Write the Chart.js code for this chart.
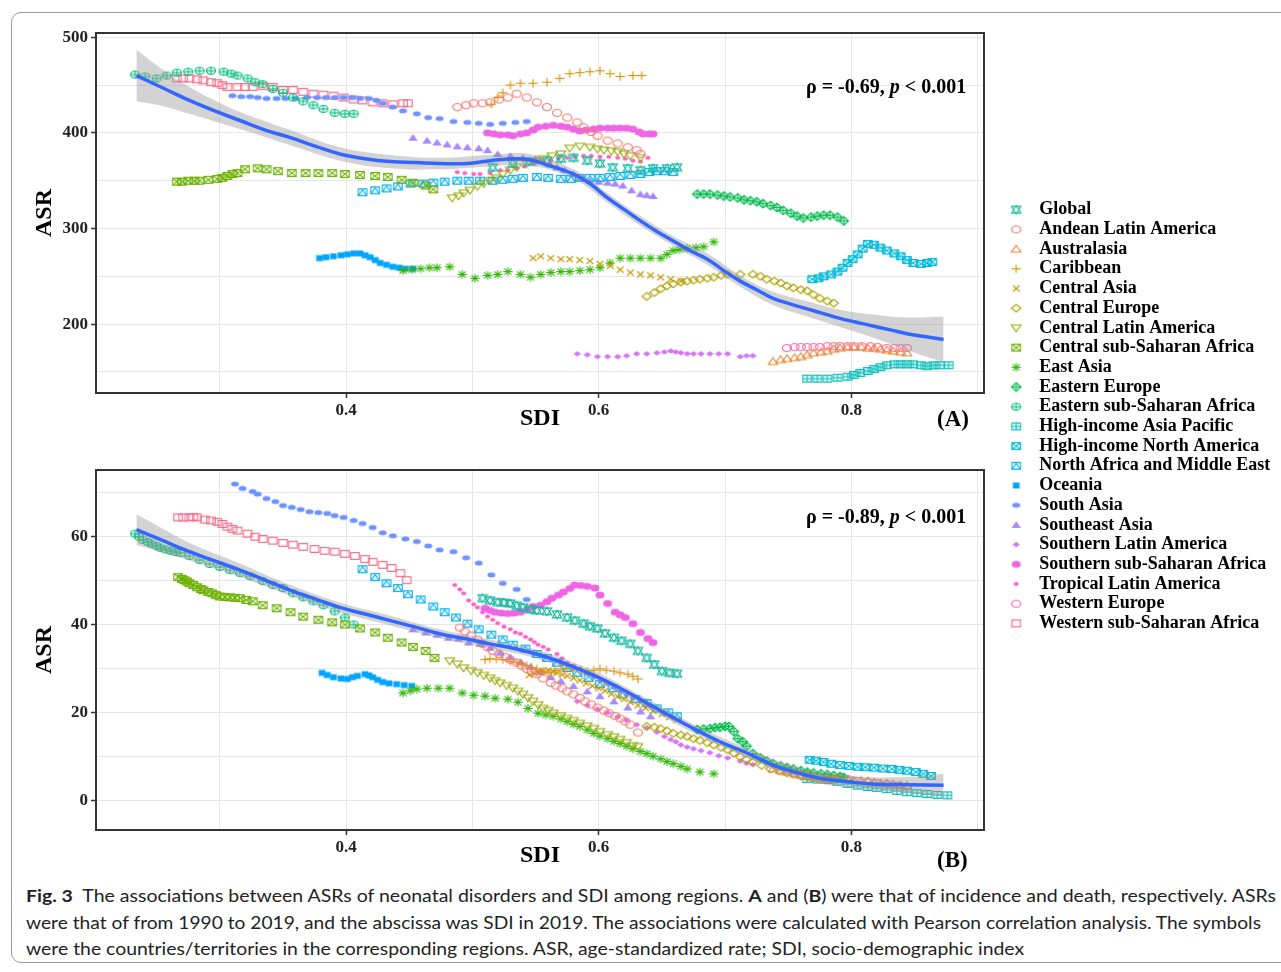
<!DOCTYPE html>
<html>
<head>
<meta charset="utf-8">
<script src="https://cdn.jsdelivr.net/npm/chart.js@4.4.1/dist/chart.umd.min.js"></script>
<style>
  html, body { margin: 0; padding: 0; background: #fff; }
  body { width: 1281px; height: 972px; position: relative; overflow: hidden; }
  .frame { position: absolute; left: 11px; top: 12px; width: 1300px; height: 951px; border: 1px solid #9a9a9a; border-radius: 10px; box-sizing: border-box; }
  canvas { position: absolute; }
  .lab { position: absolute; font-family: 'Liberation Serif', 'Times New Roman', serif; font-weight: bold; color: #000; white-space: nowrap; }
  .cap { position: absolute; left: 26px; font-family: Lato, 'Open Sans', sans-serif; font-size: 17px; color: #222; white-space: nowrap; transform-origin: 0 50%; }
</style>
</head>
<body>
<div class="frame"></div>
<canvas id="panelA" width="1000" height="440" style="left:0;top:0;width:1000px;height:440px"></canvas>
<canvas id="panelB" width="1000" height="440" style="left:0;top:440px;width:1000px;height:440px"></canvas>
<canvas id="legendBox" width="600" height="450" style="left:1000px;top:190px;width:600px;height:450px"></canvas>

<div class="lab" style="left:806px;top:75px;font-size:20px">ρ = -0.69, <i>p</i> &lt; 0.001</div>
<div class="lab" style="left:806px;top:505px;font-size:20px">ρ = -0.89, <i>p</i> &lt; 0.001</div>
<div class="lab" style="left:937px;top:406px;font-size:23px">(A)</div>
<div class="lab" style="left:937px;top:847px;font-size:23px">(B)</div>

<div class="cap" data-w="1250" style="top:885px"><b>Fig. 3</b>&nbsp; The associations between ASRs of neonatal disorders and SDI among regions. <b>A</b> and (<b>B</b>) were that of incidence and death, respectively. ASRs</div>
<div class="cap" data-w="1235" style="top:912px">were that of from 1990 to 2019, and the abscissa was SDI in 2019. The associations were calculated with Pearson correlation analysis. The symbols</div>
<div class="cap" data-w="998" style="top:938px">were the countries/territories in the corresponding regions. ASR, age-standardized rate; SDI, socio-demographic index</div>

<script>
// ---------- categories ----------
const regionNames = ['Global', 'Andean Latin America', 'Australasia', 'Caribbean', 'Central Asia',
  'Central Europe', 'Central Latin America', 'Central sub-Saharan Africa', 'East Asia', 'Eastern Europe',
  'Eastern sub-Saharan Africa', 'High-income Asia Pacific', 'High-income North America',
  'North Africa and Middle East', 'Oceania', 'South Asia', 'Southeast Asia', 'Southern Latin America',
  'Southern sub-Saharan Africa', 'Tropical Latin America', 'Western Europe', 'Western sub-Saharan Africa'];

// ---------- tick labels ----------
const xGridVals = [0.3, 0.4, 0.5, 0.6, 0.7, 0.8, 0.9];
const xLabelVals = [0.4, 0.6, 0.8];
const xLabels = ['0.4', '0.6', '0.8'];
const yGridA = [150, 200, 250, 300, 350, 400, 450, 500];
const yLabelValsA = [200, 300, 400, 500];
const yLabelsA = ['200', '300', '400', '500'];
const yGridB = [0, 10, 20, 30, 40, 50, 60, 70];
const yLabelValsB = [0, 20, 40, 60];
const yLabelsB = ['0', '20', '40', '60'];

// ---------- (A) incidence: [SDI, ASR] ----------
const incGlobal = [[0.516,364],[0.532,368],[0.545,370],[0.559,371],[0.570,373],[0.580,374],[0.591,371],[0.601,368],[0.611,364],[0.623,363],[0.633,361],[0.643,363],[0.654,363],[0.662,364]];
const incAndean = [[0.488,427],[0.495,429],[0.501,431],[0.508,431],[0.514,432],[0.521,435],[0.528,437],[0.535,441],[0.543,437],[0.551,432],[0.559,427],[0.567,421],[0.575,416],[0.583,411],[0.588,406],[0.594,401],[0.599,397],[0.607,392],[0.615,389],[0.623,385],[0.630,382],[0.633,378]];
const incAustralasia = [[0.738,161],[0.744,163],[0.749,164],[0.755,165],[0.760,166],[0.765,168],[0.770,170],[0.776,171],[0.781,172],[0.786,174],[0.791,175],[0.797,176],[0.802,176],[0.808,176],[0.813,175],[0.818,175],[0.823,174],[0.828,173],[0.833,172],[0.839,171],[0.844,170]];
const incCaribbean = [[0.515,430],[0.520,437],[0.524,442],[0.530,450],[0.538,452],[0.548,452],[0.559,453],[0.569,457],[0.577,462],[0.585,463],[0.593,464],[0.601,465],[0.609,462],[0.617,459],[0.627,460],[0.634,460]];
const incCentralAsia = [[0.548,269],[0.554,271],[0.562,269],[0.570,268],[0.577,268],[0.585,267],[0.593,266],[0.601,263],[0.609,261],[0.617,257],[0.625,254],[0.633,252],[0.641,251],[0.649,249],[0.657,247],[0.665,245]];
const incCentralEurope = [[0.638,229],[0.644,233],[0.649,237],[0.654,240],[0.659,242],[0.665,244],[0.670,245],[0.675,246],[0.680,247],[0.686,248],[0.691,249],[0.697,251],[0.702,252],[0.712,252],[0.722,252],[0.728,250],[0.733,247],[0.739,245],[0.744,243],[0.749,240],[0.754,238],[0.760,236],[0.765,235],[0.770,231],[0.775,227],[0.781,224],[0.786,222]];
const incCentralLA = [[0.484,332],[0.489,334],[0.493,337],[0.498,340],[0.504,344],[0.509,347],[0.514,350],[0.519,353],[0.524,357],[0.530,361],[0.535,364],[0.543,368],[0.550,370],[0.556,373],[0.563,376],[0.570,378],[0.577,384],[0.585,386],[0.593,385],[0.599,383],[0.604,382],[0.610,381],[0.615,380],[0.620,378],[0.625,376],[0.633,374]];
const incCentralSSA = [[0.266,349],[0.270,349],[0.275,350],[0.280,350],[0.284,350],[0.291,351],[0.298,352],[0.302,353],[0.306,355],[0.310,357],[0.314,358],[0.320,362],[0.330,363],[0.337,362],[0.346,360],[0.357,358],[0.368,358],[0.378,358],[0.389,358],[0.399,357],[0.411,356],[0.423,355],[0.433,354],[0.444,351],[0.453,348],[0.463,345],[0.469,341]];
const incEastAsia = [[0.445,256],[0.452,257],[0.459,258],[0.466,259],[0.472,259],[0.482,260],[0.492,252],[0.502,248],[0.512,251],[0.520,252],[0.528,255],[0.538,252],[0.546,249],[0.554,252],[0.562,254],[0.570,255],[0.577,255],[0.585,256],[0.593,257],[0.601,259],[0.609,264],[0.617,269],[0.625,269],[0.633,269],[0.641,269],[0.649,269],[0.654,273],[0.659,277],[0.664,278],[0.670,279],[0.677,280],[0.683,281],[0.691,286]];
const incEasternEurope = [[0.678,336],[0.683,336],[0.688,336],[0.694,335],[0.699,334],[0.704,333],[0.710,332],[0.715,330],[0.720,329],[0.725,328],[0.730,326],[0.736,324],[0.741,322],[0.746,319],[0.752,316],[0.757,313],[0.762,311],[0.768,312],[0.773,313],[0.778,314],[0.783,314],[0.789,312],[0.794,308]];
const incEasternSSA = [[0.233,461],[0.241,459],[0.250,457],[0.258,460],[0.266,463],[0.275,464],[0.284,465],[0.293,465],[0.303,464],[0.309,462],[0.314,460],[0.322,457],[0.328,453],[0.334,451],[0.342,446],[0.350,442],[0.358,437],[0.366,433],[0.374,429],[0.382,425],[0.391,421],[0.399,420],[0.406,420]];
const incHIAsiaPacific = [[0.765,143],[0.773,143],[0.781,143],[0.789,144],[0.797,145],[0.802,147],[0.807,149],[0.813,151],[0.818,153],[0.823,155],[0.828,157],[0.834,158],[0.839,158],[0.844,158],[0.849,158],[0.855,157],[0.860,156],[0.865,157],[0.870,157],[0.877,157]];
const incHINorthAmerica = [[0.769,247],[0.774,248],[0.778,250],[0.784,252],[0.789,255],[0.793,259],[0.797,264],[0.801,268],[0.805,273],[0.809,279],[0.813,284],[0.818,283],[0.823,280],[0.828,277],[0.834,274],[0.839,271],[0.844,267],[0.849,264],[0.855,263],[0.860,264],[0.864,265]];
const incNAME = [[0.413,338],[0.423,340],[0.432,342],[0.441,344],[0.451,347],[0.461,347],[0.469,348],[0.478,349],[0.488,350],[0.497,350],[0.506,350],[0.516,350],[0.524,351],[0.532,352],[0.540,353],[0.551,354],[0.560,353],[0.570,352],[0.578,352],[0.585,353],[0.593,353],[0.601,353],[0.609,354],[0.617,355],[0.625,356],[0.633,357],[0.640,359],[0.646,360],[0.652,360],[0.659,359]];
const incOceania = [[0.379,269],[0.384,270],[0.390,271],[0.396,272],[0.401,273],[0.406,274],[0.411,274],[0.415,272],[0.419,270],[0.423,267],[0.427,264],[0.432,262],[0.437,260],[0.442,259],[0.447,258],[0.453,258]];
const incSouthAsia = [[0.310,439],[0.317,438],[0.324,438],[0.330,437],[0.337,436],[0.345,436],[0.352,436],[0.360,436],[0.369,437],[0.377,437],[0.384,437],[0.391,437],[0.398,437],[0.405,437],[0.411,436],[0.418,436],[0.424,434],[0.429,431],[0.437,427],[0.445,423],[0.456,420],[0.465,416],[0.474,415],[0.485,412],[0.496,411],[0.505,410],[0.514,409],[0.524,410],[0.534,411],[0.543,412]];
const incSoutheastAsia = [[0.453,395],[0.464,392],[0.472,390],[0.480,388],[0.488,386],[0.496,385],[0.505,384],[0.512,382],[0.520,378],[0.530,376],[0.540,374],[0.550,373],[0.554,371],[0.561,367],[0.567,364],[0.573,361],[0.580,357],[0.587,353],[0.593,350],[0.600,349],[0.607,348],[0.613,347],[0.619,345],[0.626,340],[0.633,336],[0.638,335],[0.643,334]];
const incSouthernLA = [[0.583,169],[0.591,168],[0.599,166],[0.607,166],[0.615,166],[0.622,167],[0.630,169],[0.638,169],[0.646,170],[0.652,171],[0.657,172],[0.661,171],[0.665,170],[0.670,169],[0.675,169],[0.681,169],[0.688,169],[0.695,169],[0.702,169],[0.712,166],[0.717,167],[0.722,167]];
const incSouthernSSA = [[0.512,400],[0.517,399],[0.522,398],[0.528,398],[0.532,397],[0.538,399],[0.543,400],[0.548,403],[0.552,406],[0.558,407],[0.564,408],[0.570,407],[0.575,406],[0.580,404],[0.585,402],[0.590,403],[0.596,404],[0.601,405],[0.607,405],[0.612,405],[0.617,405],[0.622,405],[0.627,404],[0.632,401],[0.635,399],[0.640,399],[0.643,399]];
const incTropicalLA = [[0.488,359],[0.494,358],[0.501,357],[0.506,357],[0.514,358],[0.522,361],[0.528,361],[0.535,363],[0.541,365],[0.548,368],[0.555,370],[0.562,371],[0.568,373],[0.575,374],[0.581,375],[0.588,376],[0.594,376],[0.601,375],[0.608,375],[0.615,374],[0.621,373],[0.627,371],[0.633,370],[0.639,374]];
const incWesternEurope = [[0.749,175],[0.755,176],[0.760,176],[0.765,176],[0.770,176],[0.775,176],[0.781,177],[0.786,177],[0.791,177],[0.797,177],[0.802,177],[0.808,177],[0.815,177],[0.821,176],[0.828,175],[0.834,175],[0.839,175],[0.844,175]];
const incWesternSSA = [[0.266,457],[0.271,457],[0.276,457],[0.282,456],[0.287,455],[0.293,453],[0.298,452],[0.302,450],[0.306,448],[0.314,448],[0.320,448],[0.326,448],[0.334,449],[0.342,448],[0.350,445],[0.358,445],[0.366,443],[0.374,441],[0.382,440],[0.390,439],[0.398,437],[0.406,435],[0.413,434],[0.421,432],[0.429,431],[0.437,430],[0.445,431],[0.449,431]];
const incSmooth = [[0.234,460],[0.255,447],[0.276,434],[0.296,423],[0.316,413],[0.336,403],[0.356,395],[0.376,386],[0.395,378],[0.415,373],[0.435,370],[0.455,369],[0.474,368],[0.496,368],[0.514,371],[0.532,373],[0.545,372],[0.558,367],[0.570,362],[0.580,357],[0.593,347],[0.607,332],[0.620,320],[0.633,308],[0.646,297],[0.659,287],[0.672,277],[0.686,268],[0.699,256],[0.712,245],[0.725,236],[0.738,227],[0.752,221],[0.765,216],[0.778,211],[0.791,206],[0.804,202],[0.817,198],[0.831,194],[0.844,190],[0.858,187],[0.873,184]];
const incBandHi = [[0.234,487],[0.255,466],[0.276,448],[0.296,434],[0.316,422],[0.356,403],[0.395,385],[0.435,377],[0.474,374],[0.514,377],[0.545,378],[0.580,362],[0.607,337],[0.633,313],[0.659,292],[0.686,274],[0.712,251],[0.738,234],[0.765,224],[0.791,215],[0.817,210],[0.844,207],[0.873,208]];
const incBandLo = [[0.234,433],[0.255,428],[0.276,420],[0.296,412],[0.316,404],[0.356,387],[0.395,371],[0.435,363],[0.474,362],[0.514,365],[0.545,366],[0.580,352],[0.607,327],[0.633,303],[0.659,282],[0.686,262],[0.712,239],[0.738,220],[0.765,208],[0.791,197],[0.817,186],[0.844,173],[0.873,160]];

// ---------- (B) death: [SDI, ASR] ----------
const dthGlobal = [[0.508,46.0],[0.514,45.5],[0.520,45.1],[0.525,45.0],[0.530,44.8],[0.535,44.3],[0.540,43.9],[0.546,43.5],[0.551,43.2],[0.559,43.0],[0.567,42.3],[0.575,41.6],[0.581,40.9],[0.588,40.2],[0.593,39.6],[0.599,39.1],[0.605,38.0],[0.612,37.0],[0.618,36.3],[0.625,35.6],[0.631,34.0],[0.638,32.4],[0.644,30.9],[0.650,29.4],[0.656,29.0],[0.662,28.8]];
const dthAndean = [[0.490,39.3],[0.494,38.4],[0.499,37.5],[0.504,36.6],[0.508,35.6],[0.512,34.8],[0.516,34.0],[0.521,33.3],[0.526,32.6],[0.530,32.0],[0.535,31.3],[0.539,30.6],[0.543,29.9],[0.547,29.3],[0.551,28.7],[0.556,27.7],[0.562,26.7],[0.566,26.1],[0.571,25.5],[0.575,24.8],[0.580,24.1],[0.585,23.3],[0.589,22.5],[0.594,21.8],[0.599,21.1],[0.604,20.4],[0.608,19.8],[0.613,19.2],[0.617,18.6],[0.621,17.9],[0.625,17.2],[0.631,15.4]];
const dthAustralasia = [[0.738,7.1],[0.744,6.8],[0.749,6.4],[0.755,6.0],[0.760,5.7],[0.765,5.5],[0.770,5.3],[0.776,5.0],[0.781,4.8],[0.786,5.0],[0.791,5.1],[0.797,4.8],[0.802,4.6],[0.808,4.5],[0.813,4.4],[0.818,4.1],[0.823,3.9],[0.828,3.8],[0.833,3.7],[0.839,3.5],[0.844,3.4]];
const dthCaribbean = [[0.510,32.0],[0.514,32.2],[0.519,32.1],[0.524,32.0],[0.530,31.6],[0.535,31.3],[0.539,31.0],[0.543,30.6],[0.547,30.2],[0.551,29.9],[0.556,29.4],[0.560,29.0],[0.565,29.5],[0.570,29.9],[0.575,29.9],[0.580,29.9],[0.586,29.6],[0.591,29.4],[0.596,29.6],[0.601,29.9],[0.606,29.6],[0.612,29.4],[0.617,29.0],[0.623,28.7],[0.627,28.2],[0.631,27.6]];
const dthCentralAsia = [[0.545,28.5],[0.549,28.9],[0.552,29.2],[0.556,29.5],[0.560,29.6],[0.564,29.3],[0.567,29.0],[0.571,28.6],[0.575,28.3],[0.580,27.8],[0.585,27.3],[0.590,26.6],[0.595,26.0],[0.600,25.5],[0.605,24.9],[0.610,24.2],[0.615,23.6],[0.620,23.0],[0.625,22.3],[0.631,21.6],[0.637,21.0],[0.643,20.3],[0.650,19.6],[0.656,18.9],[0.662,18.2]];
const dthCentralEurope = [[0.638,16.8],[0.644,16.6],[0.649,16.3],[0.654,15.8],[0.659,15.2],[0.665,14.8],[0.670,14.5],[0.675,14.0],[0.680,13.6],[0.686,13.1],[0.691,12.6],[0.697,12.0],[0.702,11.5],[0.707,10.7],[0.712,9.9],[0.717,9.3],[0.722,8.7],[0.729,7.9],[0.736,7.1],[0.743,6.6],[0.749,6.2],[0.754,5.9],[0.760,5.5],[0.765,5.3],[0.770,5.0],[0.775,4.8],[0.781,4.6],[0.786,4.4]];
const dthCentralLA = [[0.482,31.7],[0.488,31.0],[0.493,30.1],[0.499,29.5],[0.504,29.0],[0.509,28.4],[0.514,27.8],[0.518,27.2],[0.522,26.7],[0.527,26.1],[0.532,25.5],[0.536,24.8],[0.540,24.1],[0.544,23.3],[0.548,22.5],[0.552,21.7],[0.556,20.9],[0.560,20.4],[0.564,19.8],[0.570,19.2],[0.575,18.6],[0.580,18.1],[0.585,17.5],[0.591,16.9],[0.596,16.3],[0.601,15.6],[0.607,14.9],[0.612,14.4],[0.617,13.8],[0.622,13.1],[0.627,12.4],[0.631,12.2]];
const dthCentralSSA = [[0.267,50.8],[0.270,50.4],[0.272,50.1],[0.274,49.8],[0.276,49.4],[0.279,49.0],[0.282,48.5],[0.285,48.1],[0.287,47.8],[0.291,47.4],[0.294,47.1],[0.297,46.7],[0.300,46.4],[0.304,46.3],[0.308,46.2],[0.312,46.1],[0.316,46.0],[0.321,45.6],[0.326,45.3],[0.334,44.4],[0.345,43.7],[0.356,42.8],[0.366,41.8],[0.378,41.1],[0.389,40.5],[0.399,40.0],[0.411,39.1],[0.423,38.2],[0.433,37.0],[0.444,35.9],[0.453,34.9],[0.463,34.0],[0.470,32.4]];
const dthEastAsia = [[0.445,24.4],[0.451,24.9],[0.456,25.3],[0.464,25.5],[0.473,25.5],[0.482,25.5],[0.492,24.4],[0.501,23.9],[0.510,23.7],[0.518,23.2],[0.528,23.0],[0.536,22.3],[0.544,20.9],[0.552,19.8],[0.558,19.4],[0.564,19.1],[0.570,18.5],[0.575,17.9],[0.580,17.3],[0.585,16.8],[0.591,16.0],[0.596,15.2],[0.601,14.6],[0.607,14.0],[0.612,13.4],[0.617,12.9],[0.622,12.3],[0.627,11.7],[0.633,11.1],[0.638,10.6],[0.643,10.0],[0.649,9.4],[0.654,8.8],[0.659,8.3],[0.665,7.7],[0.670,7.1],[0.680,6.4],[0.691,6.0]];
const dthEasternEurope = [[0.678,16.1],[0.683,16.2],[0.688,16.3],[0.692,16.5],[0.696,16.6],[0.700,16.8],[0.703,16.8],[0.707,15.6],[0.710,14.0],[0.714,13.3],[0.717,12.3],[0.722,10.6],[0.728,9.6],[0.733,8.9],[0.738,8.3],[0.744,7.8],[0.749,7.4],[0.754,7.1],[0.760,6.7],[0.765,6.4],[0.770,6.2],[0.776,6.0],[0.781,5.8],[0.786,5.6],[0.791,5.4],[0.794,5.2]];
const dthEasternSSA = [[0.233,60.7],[0.236,60.0],[0.239,59.3],[0.243,58.8],[0.246,58.4],[0.250,57.9],[0.253,57.5],[0.257,57.1],[0.261,56.8],[0.265,56.5],[0.269,56.3],[0.276,55.6],[0.284,54.7],[0.292,53.8],[0.300,53.1],[0.308,52.4],[0.316,51.7],[0.324,51.0],[0.334,49.9],[0.342,49.0],[0.350,48.3],[0.358,47.1],[0.366,46.2],[0.374,45.3],[0.382,44.4],[0.391,43.0],[0.399,41.6],[0.406,40.0]];
const dthHIAsiaPacific = [[0.765,4.8],[0.773,4.7],[0.781,4.6],[0.789,4.2],[0.797,3.7],[0.805,3.3],[0.813,3.0],[0.820,2.8],[0.828,2.5],[0.836,2.1],[0.844,1.8],[0.852,1.6],[0.860,1.4],[0.868,1.2],[0.876,1.1]];
const dthHINorthAmerica = [[0.767,9.2],[0.772,9.0],[0.778,8.7],[0.784,8.3],[0.791,8.0],[0.798,7.8],[0.805,7.6],[0.811,7.5],[0.818,7.4],[0.825,7.2],[0.832,7.1],[0.838,6.9],[0.844,6.7],[0.851,6.4],[0.857,6.0],[0.863,5.5]];
const dthNAME = [[0.413,52.6],[0.423,50.8],[0.432,49.4],[0.441,48.3],[0.449,46.9],[0.459,45.7],[0.469,44.1],[0.478,42.8],[0.487,41.6],[0.496,40.2],[0.505,38.9],[0.515,37.7],[0.524,36.6],[0.532,35.4],[0.542,34.5],[0.551,33.3],[0.559,32.4],[0.567,31.3],[0.575,30.1],[0.583,29.0],[0.592,27.8],[0.601,26.4],[0.611,25.5],[0.619,24.1],[0.629,23.0],[0.638,22.1],[0.646,20.9],[0.655,20.0],[0.662,19.1]];
const dthOceania = [[0.381,29.0],[0.385,28.5],[0.390,28.0],[0.396,27.7],[0.401,27.6],[0.405,28.0],[0.409,28.3],[0.415,28.7],[0.418,28.4],[0.421,28.0],[0.425,27.4],[0.429,26.9],[0.434,26.6],[0.440,26.4],[0.446,26.2],[0.452,26.0]];
const dthSouthAsia = [[0.312,72.0],[0.318,71.0],[0.326,70.3],[0.330,69.7],[0.337,68.7],[0.344,68.0],[0.350,67.1],[0.357,66.7],[0.364,66.2],[0.371,65.7],[0.378,65.5],[0.385,65.3],[0.391,64.8],[0.398,64.4],[0.406,63.7],[0.413,63.0],[0.421,62.1],[0.429,60.9],[0.437,60.2],[0.447,59.5],[0.456,58.9],[0.465,57.9],[0.474,57.0],[0.485,56.6],[0.495,55.2],[0.505,54.0],[0.515,51.3],[0.524,49.4],[0.535,48.0],[0.543,45.7]];
const dthSoutheastAsia = [[0.453,38.9],[0.463,38.2],[0.472,37.7],[0.481,37.0],[0.489,36.8],[0.497,35.9],[0.506,35.6],[0.514,34.7],[0.522,33.6],[0.530,32.6],[0.538,31.5],[0.546,30.4],[0.554,29.2],[0.562,28.1],[0.570,27.1],[0.580,26.0],[0.591,24.8],[0.601,23.7],[0.612,22.5],[0.623,21.1],[0.633,20.2],[0.641,19.1]];
const dthSouthernLA = [[0.583,22.5],[0.591,21.6],[0.599,20.7],[0.607,19.9],[0.615,19.0],[0.622,18.2],[0.630,17.2],[0.638,16.5],[0.646,15.5],[0.652,14.5],[0.657,13.8],[0.661,13.3],[0.665,12.6],[0.670,12.1],[0.675,11.7],[0.681,11.3],[0.688,10.8],[0.695,10.1],[0.702,9.6],[0.712,8.9],[0.717,8.4],[0.722,8.1]];
const dthSouthernSSA = [[0.510,43.7],[0.514,43.2],[0.518,42.8],[0.523,42.6],[0.528,42.5],[0.533,42.6],[0.538,42.8],[0.543,43.4],[0.548,44.1],[0.554,44.4],[0.559,45.2],[0.563,46.0],[0.568,46.7],[0.572,47.4],[0.577,48.2],[0.581,49.0],[0.586,48.9],[0.591,48.7],[0.597,48.3],[0.601,46.7],[0.607,44.8],[0.613,42.8],[0.617,42.2],[0.621,41.6],[0.627,40.2],[0.633,38.2],[0.639,36.8],[0.643,35.9]];
const dthTropicalLA = [[0.486,49.0],[0.490,48.0],[0.493,47.1],[0.497,45.5],[0.501,44.6],[0.504,43.9],[0.508,42.8],[0.512,41.8],[0.516,41.1],[0.520,40.3],[0.525,39.5],[0.530,38.9],[0.534,38.2],[0.538,37.9],[0.542,37.2],[0.546,36.6],[0.549,36.0],[0.552,35.4],[0.556,34.9],[0.560,34.3],[0.567,33.3],[0.571,32.3],[0.575,31.3],[0.580,30.6],[0.585,29.9],[0.590,29.0],[0.596,28.0],[0.601,27.2],[0.607,26.4],[0.612,25.6],[0.617,24.8],[0.622,24.0],[0.627,23.2],[0.633,22.5],[0.638,21.8],[0.641,21.2]];
const dthWesternEurope = [[0.749,6.9],[0.757,6.5],[0.765,6.0],[0.773,5.6],[0.781,5.3],[0.789,5.0],[0.797,4.8],[0.805,4.4],[0.813,4.1],[0.820,3.9],[0.828,3.7],[0.836,3.3],[0.844,3.0]];
const dthWesternSSA = [[0.267,64.4],[0.271,64.4],[0.276,64.4],[0.279,64.5],[0.282,64.4],[0.288,63.9],[0.293,63.7],[0.298,63.4],[0.302,62.9],[0.306,62.3],[0.310,61.8],[0.314,61.4],[0.322,60.7],[0.328,60.0],[0.334,59.5],[0.342,59.1],[0.350,58.6],[0.358,58.2],[0.366,57.7],[0.375,57.2],[0.383,56.8],[0.391,56.6],[0.399,56.1],[0.407,55.6],[0.415,54.9],[0.421,54.3],[0.429,53.6],[0.436,52.9],[0.443,51.7],[0.448,50.1]];
const dthSmooth = [[0.234,61.6],[0.255,59.1],[0.276,56.6],[0.296,54.5],[0.316,52.4],[0.336,50.1],[0.356,47.8],[0.376,45.8],[0.395,43.9],[0.415,42.4],[0.435,40.9],[0.455,39.4],[0.474,37.9],[0.494,36.8],[0.514,35.6],[0.534,34.5],[0.554,33.0],[0.578,30.6],[0.598,28.2],[0.617,25.5],[0.637,22.3],[0.657,19.1],[0.677,16.0],[0.696,13.3],[0.717,10.8],[0.738,8.0],[0.758,6.2],[0.778,4.8],[0.797,4.2],[0.817,3.7],[0.845,3.5],[0.873,3.4]];
const dthBandHi = [[0.234,65.1],[0.255,61.8],[0.276,58.6],[0.316,53.9],[0.356,49.0],[0.395,45.0],[0.435,42.0],[0.474,38.9],[0.514,36.6],[0.554,34.0],[0.598,29.2],[0.637,23.3],[0.677,17.0],[0.717,11.9],[0.758,7.4],[0.797,5.5],[0.845,5.3],[0.873,6.0]];
const dthBandLo = [[0.234,58.1],[0.255,56.4],[0.276,54.6],[0.316,50.9],[0.356,46.6],[0.395,42.8],[0.435,39.8],[0.474,36.9],[0.514,34.6],[0.554,32.0],[0.598,27.2],[0.637,21.3],[0.677,15.0],[0.717,9.7],[0.758,5.0],[0.797,2.9],[0.845,1.7],[0.873,0.9]];

const incidence = [incGlobal, incAndean, incAustralasia, incCaribbean, incCentralAsia, incCentralEurope,
  incCentralLA, incCentralSSA, incEastAsia, incEasternEurope, incEasternSSA, incHIAsiaPacific,
  incHINorthAmerica, incNAME, incOceania, incSouthAsia, incSoutheastAsia, incSouthernLA,
  incSouthernSSA, incTropicalLA, incWesternEurope, incWesternSSA];
const death = [dthGlobal, dthAndean, dthAustralasia, dthCaribbean, dthCentralAsia, dthCentralEurope,
  dthCentralLA, dthCentralSSA, dthEastAsia, dthEasternEurope, dthEasternSSA, dthHIAsiaPacific,
  dthHINorthAmerica, dthNAME, dthOceania, dthSouthAsia, dthSoutheastAsia, dthSouthernLA,
  dthSouthernSSA, dthTropicalLA, dthWesternEurope, dthWesternSSA];

// ---------- styles ----------
const serif = "'Liberation Serif', 'Times New Roman', serif";
Chart.defaults.font.family = serif;

const regionColors = ['#12B89F', '#F8766D', '#EA8331', '#D89000', '#C49A00', '#B2A100', '#93AA00', '#6CB100',
  '#2DB600', '#00BB4E', '#00BF7D', '#00BDB8', '#00BAD8', '#00AFEF', '#00A5FF', '#6E92FF', '#A58AFF',
  '#D575F7', '#EE66E6', '#FB61C7', '#FF66A3', '#F66D8C'];
const regionShapes = ['star6', 'circle', 'triUp', 'plus', 'cross', 'diamond', 'triDown', 'squareX', 'asterisk',
  'diamondPlus', 'circlePlus', 'squarePlus', 'circleX', 'squareTri', 'fSquare', 'fCircle', 'fTri', 'fDiamond',
  'fCircle', 'fCircle', 'circle', 'oSquare'];
const regionSizes = [[10,9],[10,8],[10,8],[10,9],[9,8],[10,8],[10,8],[10,8],[10,9],[10,9],[10,8],[10,8],[10,8],
  [10,8],[8,7],[9,6],[10,8],[8,6],[10,8],[6,5],[10,8],[10,8]];

function makeSymbol(shape, color, w, h) {
  const c = document.createElement('canvas');
  c.width = w + 2; c.height = h + 2;
  const g = c.getContext('2d');
  g.strokeStyle = color; g.fillStyle = color; g.lineWidth = 1.1;
  const cx = c.width / 2, cy = c.height / 2, rx = w / 2, ry = h / 2;
  const ell = () => { g.beginPath(); g.ellipse(cx, cy, rx - 0.5, ry - 0.5, 0, 0, Math.PI * 2); };
  const poly = pts => {
    g.beginPath();
    pts.forEach((p, i) => i ? g.lineTo(cx + p[0] * rx, cy + p[1] * ry) : g.moveTo(cx + p[0] * rx, cy + p[1] * ry));
    g.closePath();
  };
  const seg = (a, b, c2, d) => { g.beginPath(); g.moveTo(cx + a * rx, cy + b * ry); g.lineTo(cx + c2 * rx, cy + d * ry); g.stroke(); };
  const plus = k => { seg(-k, 0, k, 0); seg(0, -k, 0, k); };
  const cross = k => { seg(-k, -k, k, k); seg(-k, k, k, -k); };
  const up = [[0, -0.95], [0.95, 0.75], [-0.95, 0.75]];
  const down = [[0, 0.95], [0.95, -0.75], [-0.95, -0.75]];
  const dia = [[0, -0.95], [0.95, 0], [0, 0.95], [-0.95, 0]];
  const sq = [[-0.85, -0.85], [0.85, -0.85], [0.85, 0.85], [-0.85, 0.85]];
  switch (shape) {
    case 'star6': poly(up); g.stroke(); poly(down); g.stroke(); break;
    case 'circle': ell(); g.stroke(); break;
    case 'triUp': poly(up); g.stroke(); break;
    case 'plus': plus(0.95); break;
    case 'cross': cross(0.75); break;
    case 'diamond': poly(dia); g.stroke(); break;
    case 'triDown': poly(down); g.stroke(); break;
    case 'squareX': poly(sq); g.stroke(); cross(0.85); break;
    case 'asterisk': plus(0.95); cross(0.7); break;
    case 'diamondPlus': poly(dia); g.stroke(); plus(0.95); break;
    case 'circlePlus': ell(); g.stroke(); plus(0.9); break;
    case 'squarePlus': poly(sq); g.stroke(); plus(0.85); break;
    case 'circleX': poly(sq); g.stroke(); ell(); g.stroke(); cross(0.6); break;
    case 'squareTri':
      poly(sq); g.stroke();
      g.beginPath(); g.moveTo(cx - 0.85 * rx, cy + 0.85 * ry); g.lineTo(cx, cy - 0.6 * ry); g.lineTo(cx + 0.85 * rx, cy + 0.85 * ry); g.stroke();
      break;
    case 'fSquare': poly(sq); g.fill(); break;
    case 'fCircle': ell(); g.fill(); break;
    case 'fTri': poly(up); g.fill(); break;
    case 'fDiamond': poly(dia); g.fill(); break;
    case 'oSquare': poly(sq); g.stroke(); break;
  }
  return c;
}

const symbols = regionShapes.map((s, i) => makeSymbol(s, regionColors[i], regionSizes[i][0], regionSizes[i][1]));
const toXY = arr => arr.map(p => ({ x: p[0], y: p[1] }));

const panelFrame = {
  id: 'panelFrame',
  afterDraw(chart) {
    const { ctx, chartArea: a } = chart;
    ctx.save();
    ctx.strokeStyle = '#333';
    ctx.lineWidth = 2;
    ctx.strokeRect(a.left, a.top, a.right - a.left, a.bottom - a.top);
    ctx.restore();
  }
};

const tickFont = { size: 17, weight: 'bold' };
const titleFont = { size: 24, weight: 'bold' };

function makePanel(id, series, smooth, bandHi, bandLo, yMin, yMax, yGrid, yLabelVals, yLabels, padTop, padBottom) {
  const datasets = [
    { type: 'line', data: toXY(smooth), borderColor: '#3366FF', borderWidth: 3.5, pointRadius: 0, tension: 0.4, fill: false, order: 0 },
    { type: 'line', data: toXY(bandLo), borderColor: 'transparent', pointRadius: 0, tension: 0.4, fill: false, order: 1 },
    { type: 'line', data: toXY(bandHi), borderColor: 'transparent', pointRadius: 0, tension: 0.4, fill: '-1', backgroundColor: 'rgba(150,150,150,0.42)', order: 1 }
  ];
  series.forEach((s, i) => datasets.push({
    label: regionNames[i],
    data: toXY(s),
    pointStyle: symbols[i],
    pointRadius: 4,
    order: 2
  }));

  return new Chart(document.getElementById(id), {
    type: 'scatter',
    data: { datasets },
    plugins: [panelFrame],
    options: {
      responsive: false,
      animation: false,
      devicePixelRatio: 1,
      layout: { padding: { left: 20, right: 16, top: padTop, bottom: padBottom } },
      plugins: { legend: { display: false }, tooltip: { enabled: false } },
      scales: {
        x: {
          type: 'linear', min: 0.202, max: 0.905,
          afterBuildTicks: s => { s.ticks = xGridVals.map(v => ({ value: v })); },
          afterFit: s => { s.height = 40; },
          border: { display: false },
          grid: {
            color: '#E6E6E6', lineWidth: 1, tickLength: 5, tickWidth: 1.5,
            tickColor: c => xLabelVals.includes(c.tick && c.tick.value) ? '#333' : 'rgba(0,0,0,0)'
          },
          ticks: {
            autoSkip: false, maxRotation: 0, padding: 2, color: '#222', font: tickFont,
            callback: v => { const k = xLabelVals.indexOf(v); return k >= 0 ? xLabels[k] : ''; }
          },
          title: { display: true, text: 'SDI', color: '#000', font: titleFont, padding: 0 }
        },
        y: {
          type: 'linear', min: yMin, max: yMax,
          afterBuildTicks: s => { s.ticks = yGrid.map(v => ({ value: v })); },
          afterFit: s => { s.width = 76; },
          border: { display: false },
          grid: {
            color: '#E6E6E6', lineWidth: 1, tickLength: 5, tickWidth: 1.5,
            tickColor: c => yLabelVals.includes(c.tick && c.tick.value) ? '#333' : 'rgba(0,0,0,0)'
          },
          ticks: {
            autoSkip: false, padding: 3, color: '#222', font: tickFont,
            callback: v => { const k = yLabelVals.indexOf(v); return k >= 0 ? yLabels[k] : ''; }
          },
          title: { display: true, text: 'ASR', color: '#000', font: titleFont, padding: { top: 10, bottom: 0 } }
        }
      }
    }
  });
}

makePanel('panelA', incidence, incSmooth, incBandHi, incBandLo, 128, 504.5, yGridA, yLabelValsA, yLabelsA, 33, 7);
makePanel('panelB', death, dthSmooth, dthBandHi, dthBandLo, -6.8, 75.2, yGridB, yLabelValsB, yLabelsB, 30, 10);

// shared legend
new Chart(document.getElementById('legendBox'), {
  type: 'scatter',
  data: {
    datasets: regionNames.map((n, i) => ({ label: n, data: [], pointStyle: symbols[i], pointRadius: 4 }))
  },
  options: {
    responsive: false,
    animation: false,
    devicePixelRatio: 1,
    layout: { padding: { left: 0.5, top: 9 } },
    scales: { x: { display: false }, y: { display: false } },
    plugins: {
      tooltip: { enabled: false },
      legend: {
        position: 'left',
        align: 'start',
        onClick: null,
        labels: {
          usePointStyle: true,
          pointStyleWidth: 28,
          padding: 1.7,
          color: '#000',
          font: { size: 18, weight: 'bold', lineHeight: 1.0667 }
        }
      }
    }
  }
});

// fit caption lines to the reference line widths
document.querySelectorAll('.cap').forEach(el => {
  const w = el.getBoundingClientRect().width;
  const target = +el.dataset.w;
  if (w > 0) el.style.transform = 'scaleX(' + (target / w).toFixed(4) + ')';
});
</script>
</body>
</html>
